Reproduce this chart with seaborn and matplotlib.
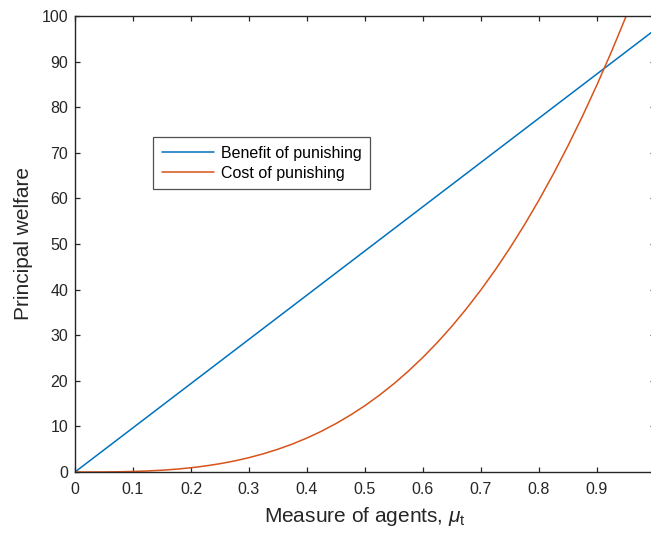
import matplotlib
matplotlib.use("Agg")
import matplotlib.pyplot as plt
import seaborn as sns
import pandas as pd

# Data
mu_benefit = [0.0, 0.25, 0.5, 0.75, 1.0]
benefit = [0.0, 24.25, 48.5, 72.75, 97.0]
mu_cost = [0.000, 0.025, 0.050, 0.075, 0.100, 0.125, 0.150, 0.175, 0.200, 0.225,
           0.250, 0.275, 0.300, 0.325, 0.350, 0.375, 0.400, 0.425, 0.450, 0.475,
           0.500, 0.525, 0.550, 0.575, 0.600, 0.625, 0.650, 0.675, 0.700, 0.725,
           0.750, 0.775, 0.800, 0.825, 0.850, 0.875, 0.900, 0.925, 0.950, 0.975, 1.000]
cost = [0.0, 0.002, 0.015, 0.049, 0.117, 0.228, 0.393, 0.624, 0.932, 1.327,
        1.82, 2.42, 3.15, 4.0, 5.0, 6.14, 7.46, 8.94, 10.62, 12.49,
        14.56, 16.86, 19.38, 22.15, 25.16, 28.44, 31.99, 35.83, 39.96, 44.40,
        49.15, 54.23, 59.65, 65.42, 71.55, 78.05, 84.93, 92.20, 99.88, 107.98, 116.5]
series_names = ["Benefit of punishing", "Cost of punishing"]
xticks = [0, 0.1, 0.2, 0.3, 0.4, 0.5, 0.6, 0.7, 0.8, 0.9, 1.0]
xticklabels = ["0", "0.1", "0.2", "0.3", "0.4", "0.5", "0.6", "0.7", "0.8", "0.9", ""]
yticks = [0, 10, 20, 30, 40, 50, 60, 70, 80, 90, 100]

df = pd.DataFrame({
    "mu": mu_benefit + mu_cost,
    "value": benefit + cost,
    "series": [series_names[0]] * len(mu_benefit) + [series_names[1]] * len(mu_cost),
})

sns.set_theme(style="white")
plt.rcParams["font.family"] = ["Liberation Sans", "DejaVu Sans"]
plt.rcParams["mathtext.fontset"] = "custom"
plt.rcParams["mathtext.rm"] = "Liberation Sans"
plt.rcParams["mathtext.it"] = "Liberation Sans:italic"

W, H = 651, 535
fig = plt.figure(figsize=(W / 100, H / 100), dpi=100)
ax = fig.add_axes([75 / W, (H - 472) / H, (655 - 75) / W, (472 - 16) / H])

sns.lineplot(data=df, x="mu", y="value", hue="series",
             palette=["#0072BD", "#D95319"], linewidth=1.1, ax=ax)

ax.set_xlim(0, 1)
ax.set_ylim(0, 100)
ax.set_xticks(xticks)
ax.set_xticklabels(xticklabels)
ax.set_yticks(yticks)

dark = "#262626"
for s in ax.spines.values():
    s.set_visible(True)
    s.set_color(dark)
    s.set_linewidth(1.0)
ax.tick_params(axis="both", which="both", direction="in", length=3.6, width=0.9,
               color=dark, labelcolor=dark, labelsize=11.5,
               top=True, right=True, left=True, bottom=True)
ax.tick_params(axis="x", pad=7)
ax.tick_params(axis="y", pad=5)

ax.set_xlabel(r"Measure of agents, $\mu_{\rm t}$", fontsize=15, color=dark, labelpad=6)
ax.set_ylabel("Principal welfare", fontsize=15, color=dark, labelpad=6)

leg = ax.legend(loc="upper left", bbox_to_anchor=((153 - 75) / 580, (472 - 137) / 456),
                frameon=True, fancybox=False, fontsize=11.5, handlelength=3.3,
                borderpad=0.55, labelspacing=0.3, handletextpad=0.4, borderaxespad=0)
leg.get_frame().set_edgecolor(dark)
leg.get_frame().set_linewidth(0.9)
leg.get_frame().set_facecolor("white")
for t in leg.get_texts():
    t.set_color("black")

fig.savefig("out.png", dpi=100, facecolor="white")
